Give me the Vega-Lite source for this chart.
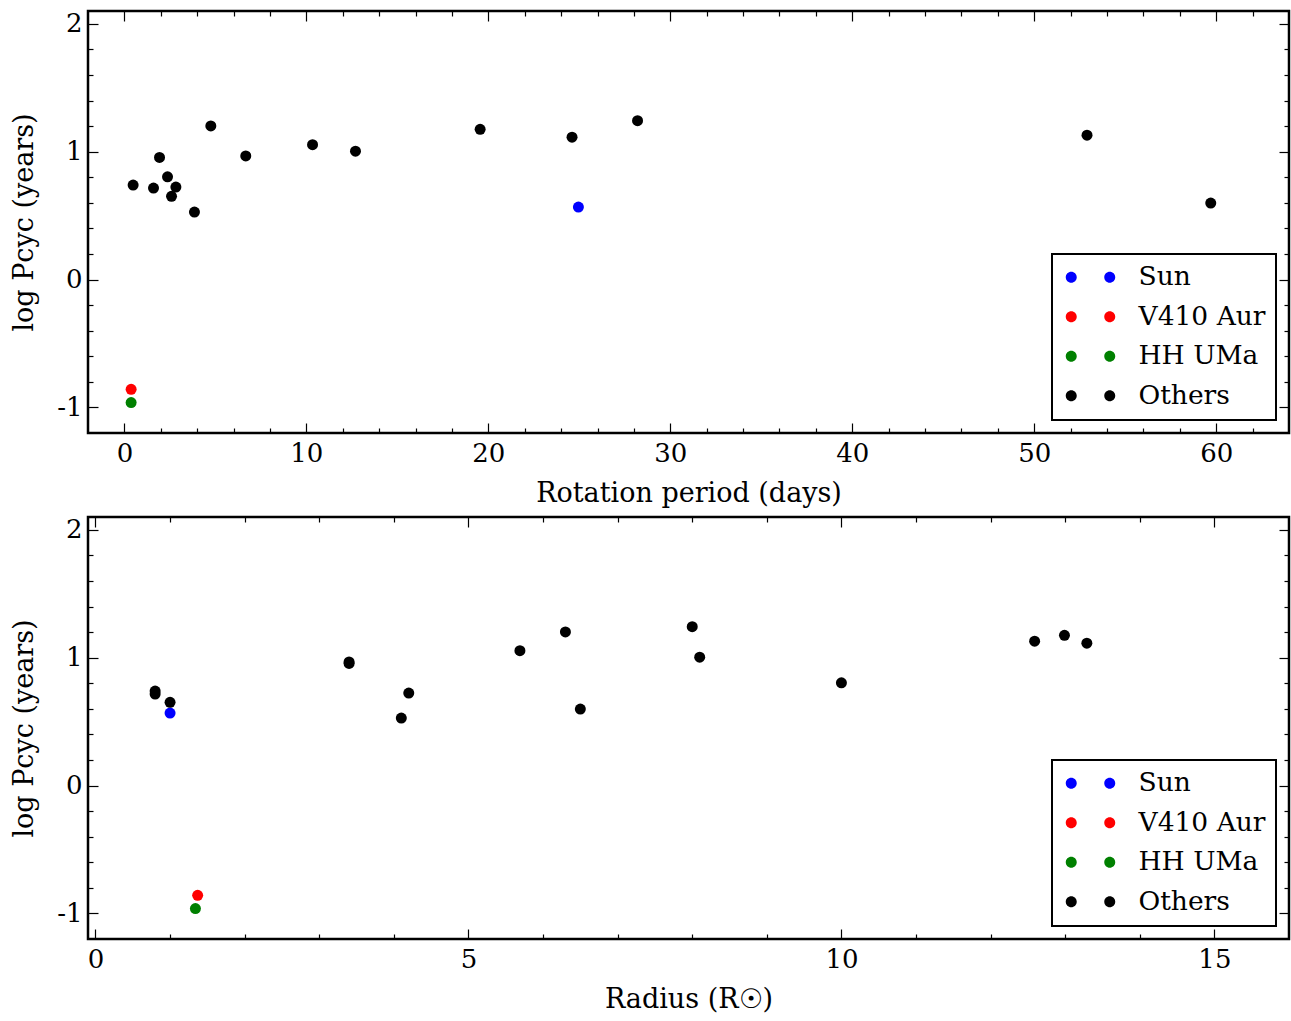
{
  "$schema": "https://vega.github.io/schema/vega-lite/v6.json",
  "padding": {"left": 9, "top": 9, "right": 2, "bottom": 5},
  "spacing": 7,
  "resolve": {"scale": {"color": "independent"}, "legend": {"color": "independent"}},
  "datasets": {
    "stars": [
      {"star": "Sun", "group": "Sun", "period": 24.95, "radius": 1.0, "logP": 0.567},
      {"star": "V410 Aur", "group": "V410 Aur", "period": 0.37, "radius": 1.37, "logP": -0.858},
      {"star": "HH UMa", "group": "HH UMa", "period": 0.37, "radius": 1.34, "logP": -0.962},
      {"star": "S1", "group": "Others", "period": 0.48, "radius": 0.8, "logP": 0.739},
      {"star": "S2", "group": "Others", "period": 1.6, "radius": 0.8, "logP": 0.715},
      {"star": "S3", "group": "Others", "period": 1.93, "radius": 3.4, "logP": 0.955},
      {"star": "S4", "group": "Others", "period": 2.37, "radius": 10.0, "logP": 0.803},
      {"star": "S5", "group": "Others", "period": 2.83, "radius": 4.2, "logP": 0.723},
      {"star": "S6", "group": "Others", "period": 2.59, "radius": 1.0, "logP": 0.651},
      {"star": "S7", "group": "Others", "period": 3.85, "radius": 4.1, "logP": 0.528},
      {"star": "S8", "group": "Others", "period": 4.75, "radius": 6.3, "logP": 1.201},
      {"star": "S9", "group": "Others", "period": 6.67, "radius": 3.4, "logP": 0.967},
      {"star": "S10", "group": "Others", "period": 10.34, "radius": 5.69, "logP": 1.055},
      {"star": "S11", "group": "Others", "period": 12.7, "radius": 8.1, "logP": 1.004},
      {"star": "S12", "group": "Others", "period": 19.55, "radius": 12.99, "logP": 1.175},
      {"star": "S13", "group": "Others", "period": 24.6, "radius": 13.29, "logP": 1.113},
      {"star": "S14", "group": "Others", "period": 28.2, "radius": 8.0, "logP": 1.242},
      {"star": "S15", "group": "Others", "period": 52.9, "radius": 12.59, "logP": 1.129},
      {"star": "S16", "group": "Others", "period": 59.7, "radius": 6.5, "logP": 0.598}
    ]
  },
  "config": {
    "font": "DejaVu Serif",
    "view": {"stroke": "black", "strokeWidth": 2.5},
    "axis": {
      "domain": false,
      "grid": false,
      "tickColor": "black",
      "tickWidth": 1.2,
      "labelColor": "black",
      "labelFontSize": 26,
      "labelFont": "DejaVu Serif",
      "titleFont": "DejaVu Serif",
      "titleFontSize": 27,
      "titleFontWeight": "normal",
      "titleColor": "black",
      "labelFlush": false,
      "labelOverlap": false,
      "offset": 0
    },
    "legend": {
      "labelFont": "DejaVu Serif",
      "labelFontSize": 26.5,
      "labelColor": "black",
      "strokeWidth": 2
    }
  },
  "vconcat": [
    {
      "width": 1201,
      "height": 422,
      "data": {"name": "stars"},
      "layer": [
        {
          "mark": {"type": "point", "filled": true, "size": 121, "opacity": 1},
          "encoding": {
            "x": {
              "field": "period", "type": "quantitative",
              "scale": {"domain": [-2, 64], "nice": false, "zero": false},
              "axis": {
                "orient": "bottom", "offset": 0,
                "title": "Rotation period (days)",
                "values": [0, 10, 20, 30, 40, 50, 60],
                "tickSize": -10,
                "labelPadding": 17,
                "titlePadding": 14
              }
            },
            "y": {
              "field": "logP", "type": "quantitative",
              "scale": {"domain": [-1.2, 2.1], "nice": false, "zero": false},
              "axis": {
                "orient": "left", "offset": 0,
                "title": "log Pcyc (years)",
                "values": [-1, 0, 1, 2],
                "tickSize": -10,
                "labelExpr": "'' + round(datum.value)",
                "labelPadding": 16,
                "titlePadding": 18
              }
            },
            "color": {
              "field": "group", "type": "nominal",
              "scale": {"domain": ["Sun", "V410 Aur", "HH UMa", "Others"], "range": ["#0000ff", "#ff0000", "#008000", "#000000"]},
              "legend": {
                "title": null,
                "orient": "bottom-right",
                "offset": 13,
                "padding": 10,
                "strokeColor": "black",
                "fillColor": "white",
                "cornerRadius": 0,
                "symbolType": "M-1,0A1,1 0 1,1 1,0A1,1 0 1,1 -1,0Z M6,0A1,1 0 1,1 8,0A1,1 0 1,1 6,0Z",
                "symbolSize": 121,
                "symbolStrokeWidth": 0,
                "symbolOffset": -4,
                "labelOffset": 54,
                "rowPadding": 12.5
              }
            }
          }
        },
        {
          "mark": {"type": "point", "opacity": 0},
          "encoding": {
            "x": {
              "field": "period", "type": "quantitative",
              "axis": {
                "orient": "bottom", "offset": 0, "title": null, "labels": false,
                "values": [2,4,6,8,12,14,16,18,22,24,26,28,32,34,36,38,42,44,46,48,52,54,56,58,62],
                "tickSize": -5
              }
            },
            "y": {
              "field": "logP", "type": "quantitative",
              "axis": {
                "orient": "left", "offset": 0, "title": null, "labels": false,
                "values": [-0.8,-0.6,-0.4,-0.2,0.2,0.4,0.6,0.8,1.2,1.4,1.6,1.8],
                "tickSize": -5
              }
            }
          }
        },
        {
          "mark": {"type": "point", "opacity": 0},
          "encoding": {
            "x": {
              "field": "period", "type": "quantitative",
              "axis": {
                "orient": "top", "offset": 0, "title": null, "labels": false,
                "values": [0, 10, 20, 30, 40, 50, 60],
                "tickSize": -10
              }
            },
            "y": {
              "field": "logP", "type": "quantitative",
              "axis": {
                "orient": "right", "offset": 0, "title": null, "labels": false,
                "values": [-1, 0, 1, 2],
                "tickSize": -10
              }
            }
          }
        },
        {
          "mark": {"type": "point", "opacity": 0},
          "encoding": {
            "x": {
              "field": "period", "type": "quantitative",
              "axis": {
                "orient": "top", "offset": 0, "title": null, "labels": false,
                "values": [2,4,6,8,12,14,16,18,22,24,26,28,32,34,36,38,42,44,46,48,52,54,56,58,62],
                "tickSize": -5
              }
            },
            "y": {
              "field": "logP", "type": "quantitative",
              "axis": {
                "orient": "right", "offset": 0, "title": null, "labels": false,
                "values": [-0.8,-0.6,-0.4,-0.2,0.2,0.4,0.6,0.8,1.2,1.4,1.6,1.8],
                "tickSize": -5
              }
            }
          }
        }
      ],
      "resolve": {"axis": {"x": "independent", "y": "independent"}}
    },
    {
      "width": 1201,
      "height": 422,
      "data": {"name": "stars"},
      "layer": [
        {
          "mark": {"type": "point", "filled": true, "size": 121, "opacity": 1},
          "encoding": {
            "x": {
              "field": "radius", "type": "quantitative",
              "scale": {"domain": [-0.1, 16], "nice": false, "zero": false},
              "axis": {
                "orient": "bottom", "offset": 0,
                "title": "Radius (R☉)",
                "values": [0, 5, 10, 15],
                "tickSize": -10,
                "labelPadding": 17,
                "titlePadding": 14
              }
            },
            "y": {
              "field": "logP", "type": "quantitative",
              "scale": {"domain": [-1.2, 2.1], "nice": false, "zero": false},
              "axis": {
                "orient": "left", "offset": 0,
                "title": "log Pcyc (years)",
                "values": [-1, 0, 1, 2],
                "tickSize": -10,
                "labelExpr": "'' + round(datum.value)",
                "labelPadding": 16,
                "titlePadding": 18
              }
            },
            "color": {
              "field": "group", "type": "nominal",
              "scale": {"domain": ["Sun", "V410 Aur", "HH UMa", "Others"], "range": ["#0000ff", "#ff0000", "#008000", "#000000"]},
              "legend": {
                "title": null,
                "orient": "bottom-right",
                "offset": 13,
                "padding": 10,
                "strokeColor": "black",
                "fillColor": "white",
                "cornerRadius": 0,
                "symbolType": "M-1,0A1,1 0 1,1 1,0A1,1 0 1,1 -1,0Z M6,0A1,1 0 1,1 8,0A1,1 0 1,1 6,0Z",
                "symbolSize": 121,
                "symbolStrokeWidth": 0,
                "symbolOffset": -4,
                "labelOffset": 54,
                "rowPadding": 12.5
              }
            }
          }
        },
        {
          "mark": {"type": "point", "opacity": 0},
          "encoding": {
            "x": {
              "field": "radius", "type": "quantitative",
              "axis": {
                "orient": "bottom", "offset": 0, "title": null, "labels": false,
                "values": [1,2,3,4,6,7,8,9,11,12,13,14],
                "tickSize": -5
              }
            },
            "y": {
              "field": "logP", "type": "quantitative",
              "axis": {
                "orient": "left", "offset": 0, "title": null, "labels": false,
                "values": [-0.8,-0.6,-0.4,-0.2,0.2,0.4,0.6,0.8,1.2,1.4,1.6,1.8],
                "tickSize": -5
              }
            }
          }
        },
        {
          "mark": {"type": "point", "opacity": 0},
          "encoding": {
            "x": {
              "field": "radius", "type": "quantitative",
              "axis": {
                "orient": "top", "offset": 0, "title": null, "labels": false,
                "values": [0, 5, 10, 15],
                "tickSize": -10
              }
            },
            "y": {
              "field": "logP", "type": "quantitative",
              "axis": {
                "orient": "right", "offset": 0, "title": null, "labels": false,
                "values": [-1, 0, 1, 2],
                "tickSize": -10
              }
            }
          }
        },
        {
          "mark": {"type": "point", "opacity": 0},
          "encoding": {
            "x": {
              "field": "radius", "type": "quantitative",
              "axis": {
                "orient": "top", "offset": 0, "title": null, "labels": false,
                "values": [1,2,3,4,6,7,8,9,11,12,13,14],
                "tickSize": -5
              }
            },
            "y": {
              "field": "logP", "type": "quantitative",
              "axis": {
                "orient": "right", "offset": 0, "title": null, "labels": false,
                "values": [-0.8,-0.6,-0.4,-0.2,0.2,0.4,0.6,0.8,1.2,1.4,1.6,1.8],
                "tickSize": -5
              }
            }
          }
        }
      ],
      "resolve": {"axis": {"x": "independent", "y": "independent"}}
    }
  ]
}
